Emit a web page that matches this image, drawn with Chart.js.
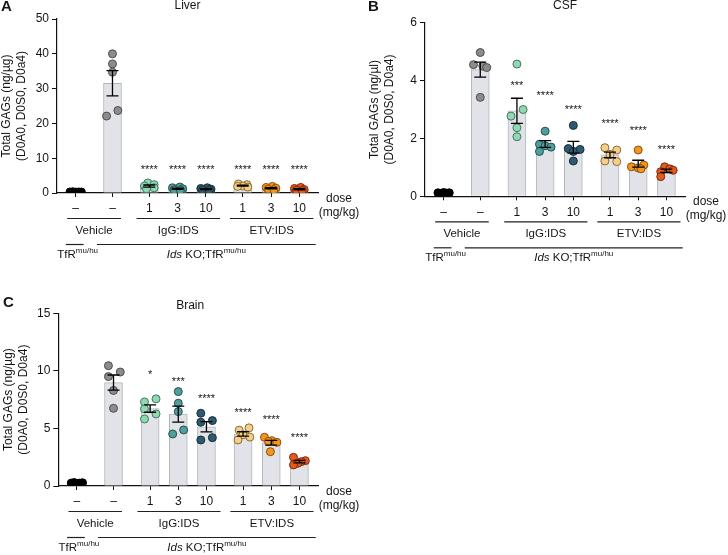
<!DOCTYPE html>
<html>
<head>
<meta charset="utf-8">
<script src="https://cdn.jsdelivr.net/npm/chart.js@4.4.1/dist/chart.umd.min.js"></script>
<style>
    body { margin: 0; background: #fff; width: 728px; height: 555px; position: relative; overflow: hidden; }
    canvas { position: absolute; }
</style>
</head>
<body>
<canvas id="liver" width="364" height="275" style="left:0;top:0"></canvas>
<canvas id="csf" width="368" height="275" style="left:360px;top:0"></canvas>
<canvas id="brain" width="364" height="260" style="left:0;top:295px"></canvas>
<script>
// groups, left to right
const categories = ['TfR mu/hu', 'Vehicle', 'IgG:IDS 1', 'IgG:IDS 3', 'IgG:IDS 10', 'ETV:IDS 1', 'ETV:IDS 3', 'ETV:IDS 10'];
const doseLabels = ['–', '–', '1', '3', '10', '1', '3', '10'];
const treatmentNames = ['Vehicle', 'IgG:IDS', 'ETV:IDS'];
const treatmentSpans = [[1, 1], [2, 4], [5, 7]];
const genotypeSpans = [[0, 0], [1, 7]];

// individual animals per group
const liverValues = [
    [0.3, 0.35, 0.25, 0.3, 0.28],
    [40.0, 37.1, 34.7, 23.7, 22.1],
    [2.9, 2.4, 2.0, 1.5, 1.2],
    [1.7, 1.5, 1.2, 0.9, 0.8],
    [1.5, 1.3, 1.1, 0.9, 0.8],
    [2.6, 2.4, 2.0, 1.9, 1.7],
    [1.9, 1.6, 1.4, 1.1, 0.9],
    [1.6, 1.3, 1.0, 0.8, 0.7]
];
const csfValues = [
    [0.12, 0.1, 0.13, 0.11, 0.12],
    [4.97, 4.55, 4.5, 4.45, 3.42],
    [4.57, 3.0, 2.77, 2.37, 2.06],
    [2.25, 1.8, 1.75, 1.7, 1.55],
    [2.45, 1.65, 1.62, 1.55, 1.22],
    [1.68, 1.6, 1.45, 1.22, 1.2],
    [1.6, 1.08, 1.02, 0.98, 0.95],
    [1.02, 0.95, 0.9, 0.85, 0.68]
];
const brainValues = [
    [0.25, 0.3, 0.2, 0.25, 0.28],
    [10.45, 9.9, 9.5, 8.3, 6.75],
    [7.57, 7.3, 6.7, 6.26, 5.82],
    [8.2, 7.19, 6.46, 4.87, 4.52],
    [6.32, 5.68, 5.54, 4.2, 4.0],
    [5.05, 4.85, 4.45, 4.25, 4.0],
    [4.23, 3.94, 3.87, 3.79, 2.98],
    [2.49, 2.2, 2.11, 1.97, 1.83]
];

// significance marks and the value they sit at
const liverSig = ['', '', '****', '****', '****', '****', '****', '****'];
const liverSigAt = [0, 0, 7.9, 7.9, 7.9, 7.9, 7.9, 7.9];
const csfSig = ['', '', '***', '****', '****', '****', '****', '****'];
const csfSigAt = [0, 0, 3.94, 3.61, 3.13, 2.64, 2.38, 1.75];
const brainSig = ['', '', '*', '***', '****', '****', '****', '****'];
const brainSigAt = [0, 0, 10.0, 9.36, 7.9, 6.7, 6.09, 4.5];

// y ticks
const liverTicks = [0, 10, 20, 30, 40, 50];
const csfTicks = [0, 2, 4, 6];
const brainTicks = [0, 5, 10, 15];

// layout: x slot of each group and horizontal scatter of the dots
const slots = [0, 1.3, 2.6, 3.6, 4.6, 5.9, 6.9, 7.9];
const liverJitter = [
    [-0.2, -0.1, 0, 0.1, 0.2], [0, 0, 0, 0.19, -0.21], [-0.05, 0.17, -0.17, 0.17, -0.1],
    [0.08, -0.18, 0.18, -0.12, 0.1], [0.05, -0.18, 0.18, -0.12, 0.12], [-0.15, 0.15, 0, -0.18, 0.18],
    [0.05, -0.17, 0.17, -0.1, 0.1], [0.05, -0.17, 0.17, -0.1, 0.1]
];
const csfJitter = [
    [-0.2, -0.1, 0, 0.1, 0.2], [0, -0.24, 0.09, 0.23, 0], [0, 0.22, -0.21, 0, 0],
    [0, -0.2, 0, 0.21, -0.2], [0, -0.18, 0.24, 0, 0], [-0.18, 0.24, 0, -0.18, 0.24],
    [0, 0.2, -0.24, 0, 0.1], [-0.06, 0.12, 0.24, -0.2, -0.2]
];
const brainJitter = [
    [-0.2, -0.1, 0, 0.1, 0.2], [-0.18, 0.24, -0.18, 0, 0], [0.21, -0.2, -0.2, 0.21, -0.2],
    [0, 0, 0, 0.19, -0.2], [-0.2, 0.21, -0.2, 0.21, -0.2], [0.21, -0.14, 0, 0.24, -0.18],
    [-0.24, 0.02, -0.1, 0.2, -0.03], [-0.21, 0.21, 0.06, -0.06, -0.21]
];

const dotFill = ['#000000', '#8c8c8c', '#93d6b4', '#4f9f9d', '#2f5a6d', '#f4cf8a', '#f2961f', '#e3581f'];
const dotEdge = ['#000000', '#4d4d4d', '#3d7a5e', '#24504f', '#15303c', '#8d6b2c', '#8c4e0b', '#7e2a0c'];

const FONT = '"Liberation Sans", Arial, sans-serif';
const INK = '#151515';

const mean = a => a.reduce((s, v) => s + v, 0) / a.length;
const sem = a => {
    const m = mean(a);
    const sd = Math.sqrt(a.reduce((s, v) => s + (v - m) * (v - m), 0) / (a.length - 1));
    return sd / Math.sqrt(a.length);
};

// mixed text pieces: {t, italic, sup}
const drawRich = (ctx, parts, cx, cy) => {
    const fontFor = p => (p.italic ? 'italic ' : '') + (p.sup ? '8px ' : '11.5px ') + FONT;
    let total = 0;
    parts.forEach(p => { ctx.font = fontFor(p); total += ctx.measureText(p.t).width; });
    let x = cx - total / 2;
    ctx.textAlign = 'left';
    ctx.textBaseline = 'alphabetic';
    parts.forEach(p => {
        ctx.font = fontFor(p);
        ctx.fillText(p.t, x, p.sup ? cy - 1 : cy + 4);
        x += ctx.measureText(p.t).width;
    });
};

const errorBars = {
    id: 'errorBars',
    afterDatasetsDraw(chart, args, opts) {
        const { ctx, scales: { x, y } } = chart;
        ctx.save();
        ctx.strokeStyle = '#000';
        ctx.lineWidth = 1.3;
        opts.values.forEach((vals, i) => {
            const m = mean(vals), s = sem(vals);
            const px = x.getPixelForValue(slots[i]);
            const top = y.getPixelForValue(m + s), bot = y.getPixelForValue(m - s);
            ctx.beginPath();
            ctx.moveTo(px, top); ctx.lineTo(px, bot);
            ctx.moveTo(px - 6, top); ctx.lineTo(px + 6, top);
            ctx.moveTo(px - 6, bot); ctx.lineTo(px + 6, bot);
            ctx.stroke();
        });
        ctx.restore();
    }
};

const annotate = {
    id: 'annotate',
    afterDraw(chart, args, o) {
        const { ctx, chartArea: a, scales: { x, y } } = chart;
        const px = v => x.getPixelForValue(v);
        ctx.save();
        ctx.fillStyle = INK;
        ctx.strokeStyle = '#222';

        ctx.font = 'bold 15px ' + FONT;
        ctx.textAlign = 'left';
        ctx.textBaseline = 'middle';
        ctx.fillText(o.letter, o.letterX, o.letterY);

        ctx.font = '12px ' + FONT;
        ctx.textAlign = 'center';
        ctx.fillText(o.title, (a.left + a.right) / 2 + o.titleDx, o.titleY);

        // axis title, two lines
        o.yTitle.forEach((line, k) => {
            ctx.save();
            ctx.translate(a.left - 50 + k * 15, (a.top + a.bottom) / 2);
            ctx.rotate(-Math.PI / 2);
            ctx.fillText(line, 0, 0);
            ctx.restore();
        });

        ctx.font = '11px ' + FONT;
        ctx.textBaseline = 'alphabetic';
        o.sig.forEach((s, i) => {
            if (s) ctx.fillText(s, px(slots[i]), y.getPixelForValue(o.sigAt[i]) + 7);
        });

        const b = a.bottom;
        ctx.font = '12px ' + FONT;
        ctx.textBaseline = 'middle';
        doseLabels.forEach((d, i) => ctx.fillText(d, px(slots[i]), b + 16));
        ctx.fillText('dose', a.right + 21, b + 5.5);
        ctx.fillText('(mg/kg)', a.right + 21, b + 19.5);

        ctx.lineWidth = 1.2;
        const pads1 = [[0.3, 0.3], [0.45, 0.5], [0.45, 0.5]];
        treatmentSpans.forEach(([s, e], k) => {
            const x0 = px(slots[s] - pads1[k][0] - (k === 0 ? 1.3 : 0));
            const x1 = px(slots[e] + pads1[k][1]);
            ctx.beginPath(); ctx.moveTo(x0, b + 25.5); ctx.lineTo(x1, b + 25.5); ctx.stroke();
            ctx.font = '11.5px ' + FONT;
            ctx.fillText(treatmentNames[k], (x0 + x1) / 2, b + 37.5);
        });

        const pads2 = [[0.35, 0.28], [0.55, 0.58]];
        const genoLabels = [
            [{ t: 'TfR' }, { t: 'mu/hu', sup: true }],
            [{ t: 'Ids', italic: true }, { t: ' KO;TfR' }, { t: 'mu/hu', sup: true }]
        ];
        genotypeSpans.forEach(([s, e], k) => {
            const x0 = px(slots[s] - pads2[k][0]);
            const x1 = px(slots[e] + pads2[k][1]);
            ctx.beginPath(); ctx.moveTo(x0, b + 51.5); ctx.lineTo(x1, b + 51.5); ctx.stroke();
            drawRich(ctx, genoLabels[k], (x0 + x1) / 2 + (k === 0 ? 3 : 0), b + 61);
        });
        ctx.restore();
    }
};

const makePanel = (canvasId, values, jitter, ticks, panel) => {
    const datasets = [{
        type: 'bar',
        data: slots.map((s, i) => ({ x: s, y: mean(values[i]) })),
        backgroundColor: '#e1e3e8',
        borderColor: '#b3b5ba',
        borderWidth: 1,
        barThickness: 18,
        order: 10
    }];
    values.forEach((vals, i) => {
        datasets.push({
            type: 'scatter',
            data: vals.map((v, k) => ({ x: slots[i] + jitter[i][k], y: v })),
            pointRadius: 4,
            pointBackgroundColor: dotFill[i],
            pointBorderColor: dotEdge[i],
            pointBorderWidth: 1,
            order: 1
        });
    });

    return new Chart(document.getElementById(canvasId), {
        type: 'bar',
        data: { datasets },
        options: {
            responsive: false,
            animation: false,
            layout: { padding: { left: 0, top: panel.top, right: panel.right, bottom: 0 } },
            plugins: {
                legend: { display: false },
                tooltip: { enabled: false },
                errorBars: { values },
                annotate: panel
            },
            scales: {
                x: {
                    type: 'linear',
                    min: -0.66,
                    max: 8.56,
                    offset: false,
                    afterBuildTicks: s => { s.ticks = slots.map(v => ({ value: v })); },
                    afterFit: s => { s.height = panel.xHeight; },
                    ticks: { display: false },
                    grid: { drawOnChartArea: false, drawTicks: true, tickLength: 4, color: '#111', offset: false },
                    border: { color: '#111', width: 1.2 }
                },
                y: {
                    min: 0,
                    max: ticks[ticks.length - 1],
                    afterBuildTicks: s => { s.ticks = ticks.map(v => ({ value: v })); },
                    afterFit: s => { s.width = panel.yWidth; },
                    ticks: { color: INK, font: { family: FONT, size: 12 }, padding: 3 },
                    grid: { drawOnChartArea: false, drawTicks: true, tickLength: 5, color: '#111' },
                    border: { color: '#111', width: 1.2 }
                }
            }
        },
        plugins: [errorBars, annotate]
    });
};

makePanel('liver', liverValues, liverJitter, liverTicks, {
    letter: 'A', letterX: 1, letterY: 7, title: 'Liver', titleDx: 0, titleY: 6,
    yTitle: ['Total GAGs (ng/µg)', '(D0A0, D0S0, D0a4)'],
    sig: liverSig, sigAt: liverSigAt,
    top: 19, right: 46, yWidth: 57, xHeight: 82
});
makePanel('csf', csfValues, csfJitter, csfTicks, {
    letter: 'B', letterX: 8, letterY: 7, title: 'CSF', titleDx: 10, titleY: 6,
    yTitle: ['Total GAGs (ng/µl)', '(D0A0, D0S0, D0a4)'],
    sig: csfSig, sigAt: csfSigAt,
    top: 22.7, right: 43, yWidth: 65, xHeight: 78.7
});
makePanel('brain', brainValues, brainJitter, brainTicks, {
    letter: 'C', letterX: 3, letterY: 8, title: 'Brain', titleDx: 2, titleY: 11,
    yTitle: ['Total GAGs (ng/µg)', '(D0A0, D0S0, D0a4)'],
    sig: brainSig, sigAt: brainSigAt,
    top: 18.3, right: 46, yWidth: 58.3, xHeight: 69
});
</script>
</body>
</html>
